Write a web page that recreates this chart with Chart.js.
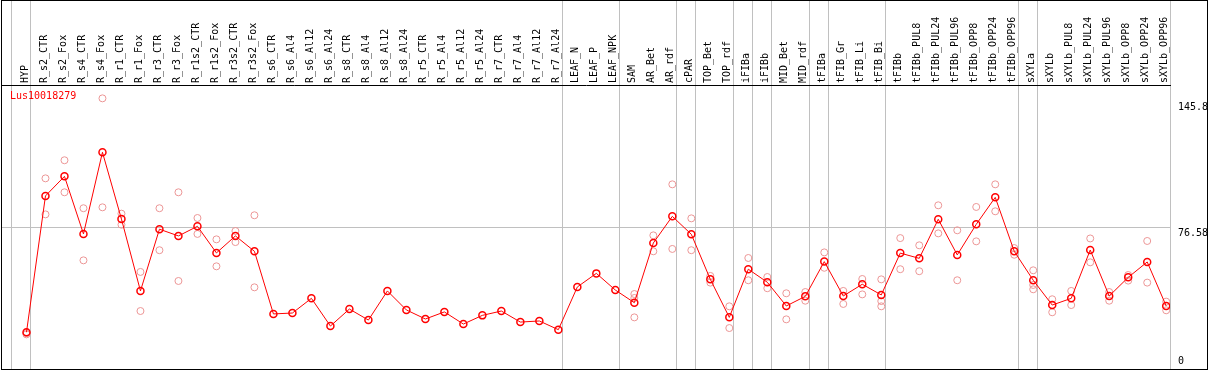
<!DOCTYPE html>
<html><head><meta charset="utf-8">
<script src="https://cdn.jsdelivr.net/npm/chart.js@4.4.0/dist/chart.umd.min.js"></script>
<style>
html,body{margin:0;padding:0;background:#fff;}
#wrap{position:relative;width:1209px;height:370px;}
#frame{position:absolute;left:1px;top:0;width:1205px;height:368px;border:1px solid #000;pointer-events:none;}
</style></head><body>
<div id="wrap"><canvas id="c" width="1209" height="370"></canvas><div id="frame"></div></div>
<script>
const geneId = 'Lus10018279';
const categories = ['HYP','R_s2_CTR','R_s2_Fox','R_s4_CTR','R_s4_Fox','R_r1_CTR','R_r1_Fox','R_r3_CTR','R_r3_Fox','R_r1s2_CTR','R_r1s2_Fox','R_r3s2_CTR','R_r3s2_Fox','R_s6_CTR','R_s6_Al4','R_s6_Al12','R_s6_Al24','R_s8_CTR','R_s8_Al4','R_s8_Al12','R_s8_Al24','R_r5_CTR','R_r5_Al4','R_r5_Al12','R_r5_Al24','R_r7_CTR','R_r7_Al4','R_r7_Al12','R_r7_Al24','LEAF_N','LEAF_P','LEAF_NPK','SAM','AR_Bet','AR_rdf','cPAR','TOP_Bet','TOP_rdf','iFIBa','iFIBb','MID_Bet','MID_rdf','tFIBa','tFIB_Gr','tFIB_Li','tFIB_Bi','tFIBb','tFIBb_PUL8','tFIBb_PUL24','tFIBb_PUL96','tFIBb_OPP8','tFIBb_OPP24','tFIBb_OPP96','sXYLa','sXYLb','sXYLb_PUL8','sXYLb_PUL24','sXYLb_PUL96','sXYLb_OPP8','sXYLb_OPP24','sXYLb_OPP96'];
const meanValues = [19.0,94.3,105.1,73.3,118.4,81.5,41.8,75.9,72.2,77.5,62.8,72.2,63.7,29.1,29.6,37.7,22.4,31.8,25.7,41.8,31.3,26.3,30.2,23.5,28.3,30.7,24.6,25.2,20.4,44.0,51.5,42.3,35.3,68.3,83.0,73.1,48.2,27.2,53.8,46.6,33.5,38.8,58.0,39.0,45.5,39.6,62.7,59.8,81.4,61.7,78.6,93.5,63.7,47.7,34.0,37.7,64.4,39.0,49.3,57.8,33.5];
const replicates = [
 [17.8,18.5],[104.0,84.1],[114.0,96.3],[87.5,58.7],[148.2,88.0],[84.5,78.4],[52.3,30.7],[87.5,64.3],[96.3,47.3],[82.1,73.3],[70.3,55.4],[74.9,68.8],[83.6,43.8],
 [],[],[],[],[],[],[],[],[],[],[],[],[],[],[],[],[],[],[],
 [40.1,37.9,27.2],[72.5,63.7],[100.7,65.0],[81.9,64.3],[50.1,46.4],[33.3,21.3],[60.0,47.7],[49.5,43.3],[40.5,26.1],[41.2,36.4],[63.1,54.6],[41.8,34.6],[48.4,39.9],[48.2,36.2,33.3],
 [71.0,53.8],[67.0,52.7],[89.1,73.6],[75.3,47.7],[88.2,69.2],[100.7,85.8],[65.5,61.8],
 [53.2,45.1,42.7],[37.2,30.0],[41.8,34.0],[70.8,57.6],[41.2,36.4],[50.6,47.5],[69.4,46.4],[35.9,31.1]
];
const separatorsAfter = [-1,0,28,31,34,35,37,38,39,41,42,45,52,53,60];
const yTickValues = [0, 76.58, 145.8];
const yTickLabels = ['0','76.58','145.8'];

const meanData = meanValues.map((v,i)=>({x:i,y:v}));
const repData = [];
replicates.forEach((arr,i)=>arr.forEach(v=>repData.push({x:i,y:v})));
const sepValues = separatorsAfter.map(s=>s+0.2);
const isSep = v => sepValues.some(s=>Math.abs(s-v)<1e-6);
const FONT = "'DejaVu Sans Mono', monospace";

const geneLabel = {
  id:'geneLabel',
  afterDatasetsDraw(chart){
    const {ctx, chartArea} = chart;
    ctx.save();
    ctx.font = "10px " + FONT;
    ctx.fillStyle = '#ff0000';
    ctx.textBaseline = 'middle';
    ctx.textAlign = 'left';
    ctx.fillText(chart.data.datasets[0].label, chartArea.left + 8, chartArea.top + 11.5);
    ctx.restore();
  }
};
const noPad = (s)=>{ s.paddingTop = 0; s.paddingBottom = 0; s.paddingLeft = 0; s.paddingRight = 0; };

new Chart(document.getElementById('c'), {
  type:'scatter',
  data:{datasets:[
    {label:geneId, data:meanData, showLine:true, borderColor:'#ff0000', borderWidth:1,
     pointRadius:3.5, pointBorderWidth:1.5, pointBorderColor:'#ff0000', pointBackgroundColor:'rgba(0,0,0,0)', tension:0, order:0},
    {label:'replicates', data:repData, showLine:false, pointRadius:3.5, pointBorderWidth:1,
     pointBorderColor:'rgb(236,150,150)', pointBackgroundColor:'rgba(0,0,0,0)', order:1}
  ]},
  options:{
    responsive:false, animation:false, devicePixelRatio:1,
    layout:{autoPadding:false, padding:{left:2,top:0,right:0,bottom:1}},
    plugins:{legend:{display:false}, tooltip:{enabled:false}},
    scales:{
      x:{type:'linear', position:'top', min:-1.289, max:60.2,
        afterBuildTicks:(s)=>{ s.ticks = categories.map((_,i)=>({value:i})).concat(sepValues.map(v=>({value:v}))).sort((a,b)=>a.value-b.value); },
        afterFit:(s)=>{ s.height = 85; noPad(s); },
        ticks:{autoSkip:false, minRotation:90, maxRotation:90, padding:-83, labelOffset:8.5,
          color:'#000', font:{family:FONT, size:10, lineHeight:1},
          callback:(v)=> Number.isInteger(v) ? categories[v] : ''},
        grid:{display:true, drawOnChartArea:true, drawTicks:true, tickLength:85, lineWidth:1,
          color:(c)=> (c.tick && isSep(c.tick.value)) ? '#c0c0c0' : 'rgba(0,0,0,0)'},
        border:{display:true, color:'#000', width:1}
      },
      y:{type:'linear', position:'right', min:-1.33, max:155.58,
        afterBuildTicks:(s)=>{ s.ticks = yTickValues.map(v=>({value:v})); },
        afterFit:(s)=>{ s.width = 39; noPad(s); },
        ticks:{padding:8, color:'#000', font:{family:FONT, size:10, lineHeight:1},
          callback:(v)=>{ const i = yTickValues.indexOf(v); const t = yTickLabels[i]; return v===0 ? [t,''] : ['',t]; }},
        grid:{drawTicks:false, lineWidth:1, color:(c)=> (c.tick && c.tick.value===76.58) ? '#c0c0c0' : 'rgba(0,0,0,0)'},
        border:{display:false}
      }
    }
  },
  plugins:[geneLabel]
});
</script>
</body></html>
